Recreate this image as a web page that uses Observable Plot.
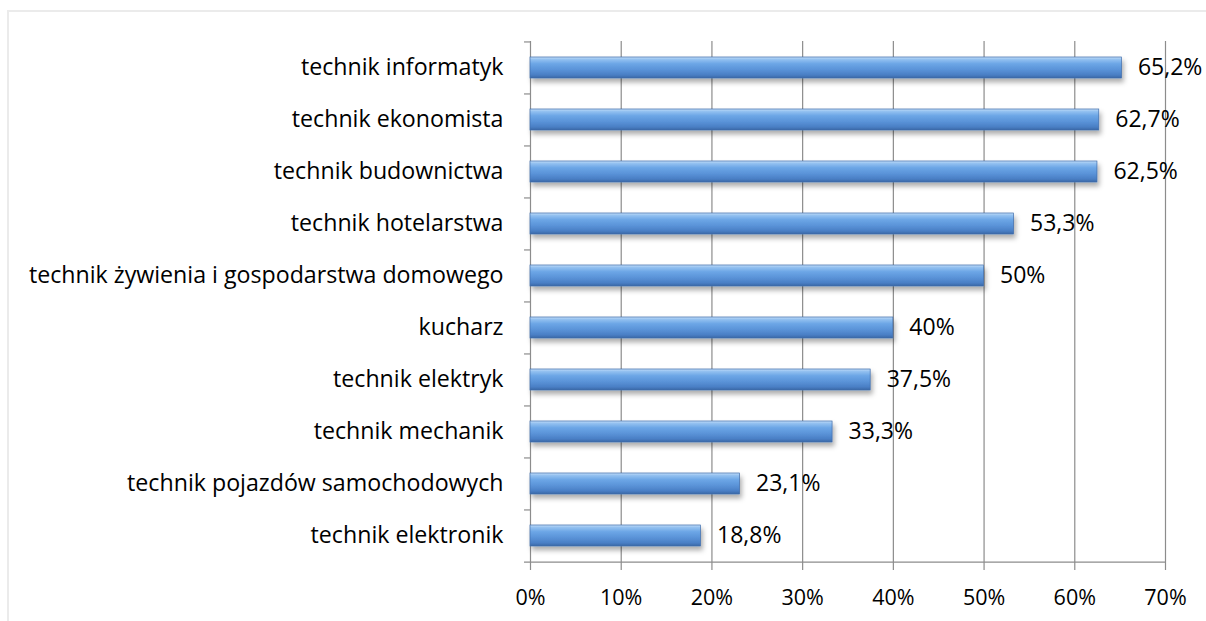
<!DOCTYPE html>
<html>
<head>
<meta charset="utf-8">
<script src="https://cdn.jsdelivr.net/npm/d3@7"></script>
<script src="https://cdn.jsdelivr.net/npm/@observablehq/plot@0.6"></script>
<style>
  html, body { margin: 0; padding: 0; background: #fff; }
  #wrap { position: relative; width: 1206px; height: 621px; overflow: hidden; }
  #frame { position: absolute; left: 7px; top: 10px; right: -5px; bottom: -5px;
           border-top: 2px solid #ebebeb; border-left: 2px solid #ebebeb; }
  #chart { position: absolute; left: 0; top: 0; }
</style>
</head>
<body>
<div id="wrap"><div id="frame"></div><div id="chart"></div></div>
<script>
const categories = [
  "technik informatyk",
  "technik ekonomista",
  "technik budownictwa",
  "technik hotelarstwa",
  "technik żywienia i gospodarstwa domowego",
  "kucharz",
  "technik elektryk",
  "technik mechanik",
  "technik pojazdów samochodowych",
  "technik elektronik"
];
const values = [65.2, 62.7, 62.5, 53.3, 50, 40, 37.5, 33.3, 23.1, 18.8];
const xTicks = [0, 10, 20, 30, 40, 50, 60, 70];

const data = categories.map((c, i) => ({category: c, value: values[i]}));
const fmtPct = v => (Number.isInteger(v) ? String(v) : v.toFixed(1).replace(".", ",")) + "%";

const grey = "#8c8c8c";
const FS_AXIS = "21.5px";
const FS_CAT = "23.2px";
const FS_VAL = "23px";
const chart = Plot.plot({
  width: 1206,
  height: 621,
  marginLeft: 530,
  marginRight: 41,
  marginTop: 41,
  marginBottom: 59,
  style: {fontFamily: "'Open Sans', Lato, sans-serif", fontSize: FS_AXIS, color: "#000", background: "transparent"},
  x: {domain: [0, 70], ticks: xTicks, tickFormat: d => d + "%", label: null},
  y: {domain: categories, paddingInner: 0.6, paddingOuter: 0.3, label: null},
  marks: [
    Plot.gridX(xTicks, {stroke: grey, strokeOpacity: 1, strokeWidth: 1.2}),
    Plot.axisX(xTicks, {tickSize: 8, tickPadding: 19, stroke: grey, strokeWidth: 1.2, tickFormat: d => d + "%", fontSize: FS_AXIS, label: null}),
    Plot.axisY({tickSize: 0, tickPadding: 27, fontSize: FS_CAT, label: null}),
    Plot.ruleY(categories, {y: d => d, x1: -0.66, x2: 0, dy: -26.05, stroke: grey, strokeWidth: 1.2}),
    Plot.ruleY([categories[categories.length - 1]], {y: d => d, x1: -0.66, x2: 70, dy: 26.05, stroke: grey, strokeWidth: 1.2}),
    Plot.barX(data, {y: "category", x: "value", fill: "url(#barGrad)", stroke: "#3f6dab", strokeWidth: 0.7, className: "bars"}),
    Plot.text(data, {y: "category", x: "value", text: d => fmtPct(d.value), textAnchor: "start", dx: 16, fill: "#000", fontSize: FS_VAL})
  ]
});

const ns = "http://www.w3.org/2000/svg";
const defs = document.createElementNS(ns, "defs");
defs.innerHTML = `
  <linearGradient id="barGrad" x1="0" y1="0" x2="0" y2="1">
    <stop offset="0" stop-color="#c2ddf8"/>
    <stop offset="0.12" stop-color="#92c0f0"/>
    <stop offset="0.32" stop-color="#6ca6e6"/>
    <stop offset="0.6" stop-color="#5a93d8"/>
    <stop offset="0.85" stop-color="#4a7fc5"/>
    <stop offset="1" stop-color="#3a68a6"/>
  </linearGradient>
  <filter id="barShadow" x="-5%" y="-50%" width="110%" height="250%">
    <feDropShadow dx="2" dy="4" stdDeviation="2.5" flood-color="#000" flood-opacity="0.32"/>
  </filter>`;
chart.insertBefore(defs, chart.firstChild);
chart.querySelectorAll(".bars").forEach(g => g.setAttribute("filter", "url(#barShadow)"));
document.getElementById("chart").appendChild(chart);
</script>
</body>
</html>
